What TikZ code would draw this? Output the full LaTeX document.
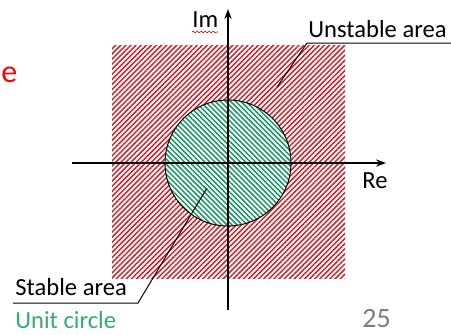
\documentclass[tikz,border=0pt]{standalone}
\usepackage{fontspec}
\setmainfont{Carlito}
\usetikzlibrary{arrows.meta,patterns.meta,decorations.pathmorphing}
\definecolor{hatchred}{RGB}{205,35,45}
\definecolor{hatchgreen}{RGB}{25,150,100}
\definecolor{labelgreen}{RGB}{55,170,110}
\definecolor{pagegray}{RGB}{125,125,125}

\begin{document}
\begin{tikzpicture}[
    x=0.5pt, y=-0.5pt,
    redhatch/.style={pattern={Lines[angle=45,distance=1.8pt,line width=0.75pt]}, pattern color=hatchred},
    greenhatch/.style={pattern={Lines[angle=-45,distance=1.8pt,line width=0.75pt]}, pattern color=hatchgreen},
    axis/.style={-{Stealth[length=5pt,width=3.6pt]}, line width=0.7pt},
    leader/.style={line width=0.5pt},
    lbl/.style={font=\fontsize{12.3}{14}\selectfont, inner sep=0pt}
]
\clip (0,0) rectangle (451,334);

% Areas
\path[redhatch] (112,45) rectangle (345,278);
\coordinate (origin) at (228,163);
\path[fill=white] (origin) circle[radius=63];
\draw[greenhatch, line width=0.5pt] (origin) circle[radius=63];

% Axes
\coordinate (re_start) at (72,163);
\coordinate (re_end) at (386,163);
\coordinate (im_start) at (228,310);
\coordinate (im_end) at (228,9);
\draw[axis] (re_start) -- (re_end);
\draw[axis] (im_start) -- (im_end);

% Axis labels
\node[lbl, anchor=base west] (re) at (362,188) {Re};
\node[lbl, anchor=base west] (im) at (192,27) {Im};
\coordinate (wave_l) at (192,32);
\coordinate (wave_r) at (218,32);
\draw[red, line width=0.3pt, decorate, decoration={snake, amplitude=0.4pt, segment length=2pt}] (wave_l) -- (wave_r);

% Unstable area
\node[lbl, anchor=base west] (unstable) at (308,37.5) {Unstable area};
\coordinate (u_tip) at (277,87);
\coordinate (u_bend) at (307,43);
\coordinate (u_end) at (451,43);
\draw[leader] (u_tip) -- (u_bend) -- (u_end);

% Stable area
\node[lbl, anchor=base west] (stable) at (15,295) {Stable area};
\coordinate (s_tip) at (207,188);
\coordinate (s_bend) at (138,303);
\coordinate (s_end) at (13,303);
\draw[leader] (s_tip) -- (s_bend) -- (s_end);
\node[lbl, anchor=base west, text=labelgreen] (unit) at (15,328) {Unit circle};

% Slide leftovers
\node[inner sep=0pt, anchor=base west, text=red, font=\fontsize{16}{18}\selectfont] (cut_e) at (1,82) {e};
\node[inner sep=0pt, anchor=base west, text=pagegray, font=\fontsize{14}{16}\selectfont] (page) at (362,327) {25};

\end{tikzpicture}
\end{document}
